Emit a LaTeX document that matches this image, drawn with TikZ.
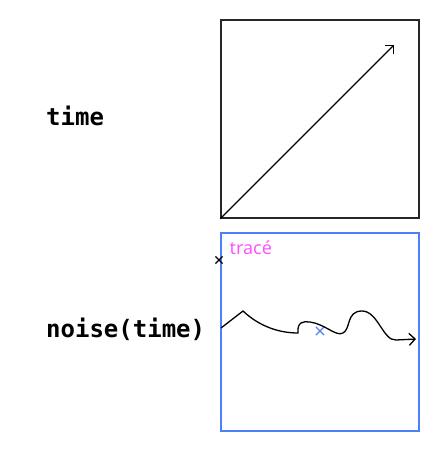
\documentclass[tikz,border=0pt]{standalone}
\usepackage{fontspec}
\setmainfont{Noto Sans}
\setmonofont{DejaVu Sans Mono}
\usetikzlibrary{arrows.meta,shapes,positioning}
\definecolor{traceblue}{HTML}{5080F8}
\definecolor{tracepink}{HTML}{FF55FF}
\tikzset{
	plotbox/.style={
		rectangle,
		draw=black!85,
		line width=1.3pt,
		minimum size=198pt,
		inner sep=0pt
	},
	codelabel/.style={
		font=\ttfamily\bfseries\fontsize{24}{28}\selectfont,
		anchor=west,
		inner sep=0pt
	},
	tracelabel/.style={
		font=\fontsize{18}{21}\selectfont,
		text=tracepink,
		inner sep=0pt
	},
	marker/.style={
		cross out,
		draw,
		line width=1.2pt,
		minimum size=6pt,
		inner sep=0pt
	}
}
\begin{document}
\begin{tikzpicture}[x=1pt,y=-1pt,>={Straight Barb[length=6pt,width=12pt]}]
	\useasboundingbox (0,0) rectangle (442,454);
	\node [plotbox] (timebox) at (320,119) {};
	\node [plotbox,draw=traceblue] (noisebox) at (320,332) {};
	\node [codelabel] (timelabel) at (46,116) {time};
	\node [codelabel] (noiselabel) at (46,329) {noise(time)};
	\node [tracelabel,below right=8pt and 9pt of noisebox.north west] (trace) {tracé};
	\node [marker] (start) at (219,260) {};
	\node [marker,draw=traceblue,minimum size=7pt] (target) at (320,331) {};
	\coordinate (tip) at (394,45);
	\draw[->,line width=1.3pt] (timebox.south west) -- (tip);
	% the noisy path
	\coordinate (w0) at (221,328);
	\coordinate (wend) at (416,339);
	\draw[->,line width=1.3pt] (w0) -- (243,311)
		.. controls (260,327) and (280,333) .. (298,333)
		.. controls (297,322) and (303,321) .. (310,322)
		.. controls (325,324) and (336,337) .. (343,333)
		.. controls (351,329) and (346,311) .. (362,311)
		.. controls (378,311) and (383,341) .. (396,340)
		-- (wend);
\end{tikzpicture}
\end{document}
